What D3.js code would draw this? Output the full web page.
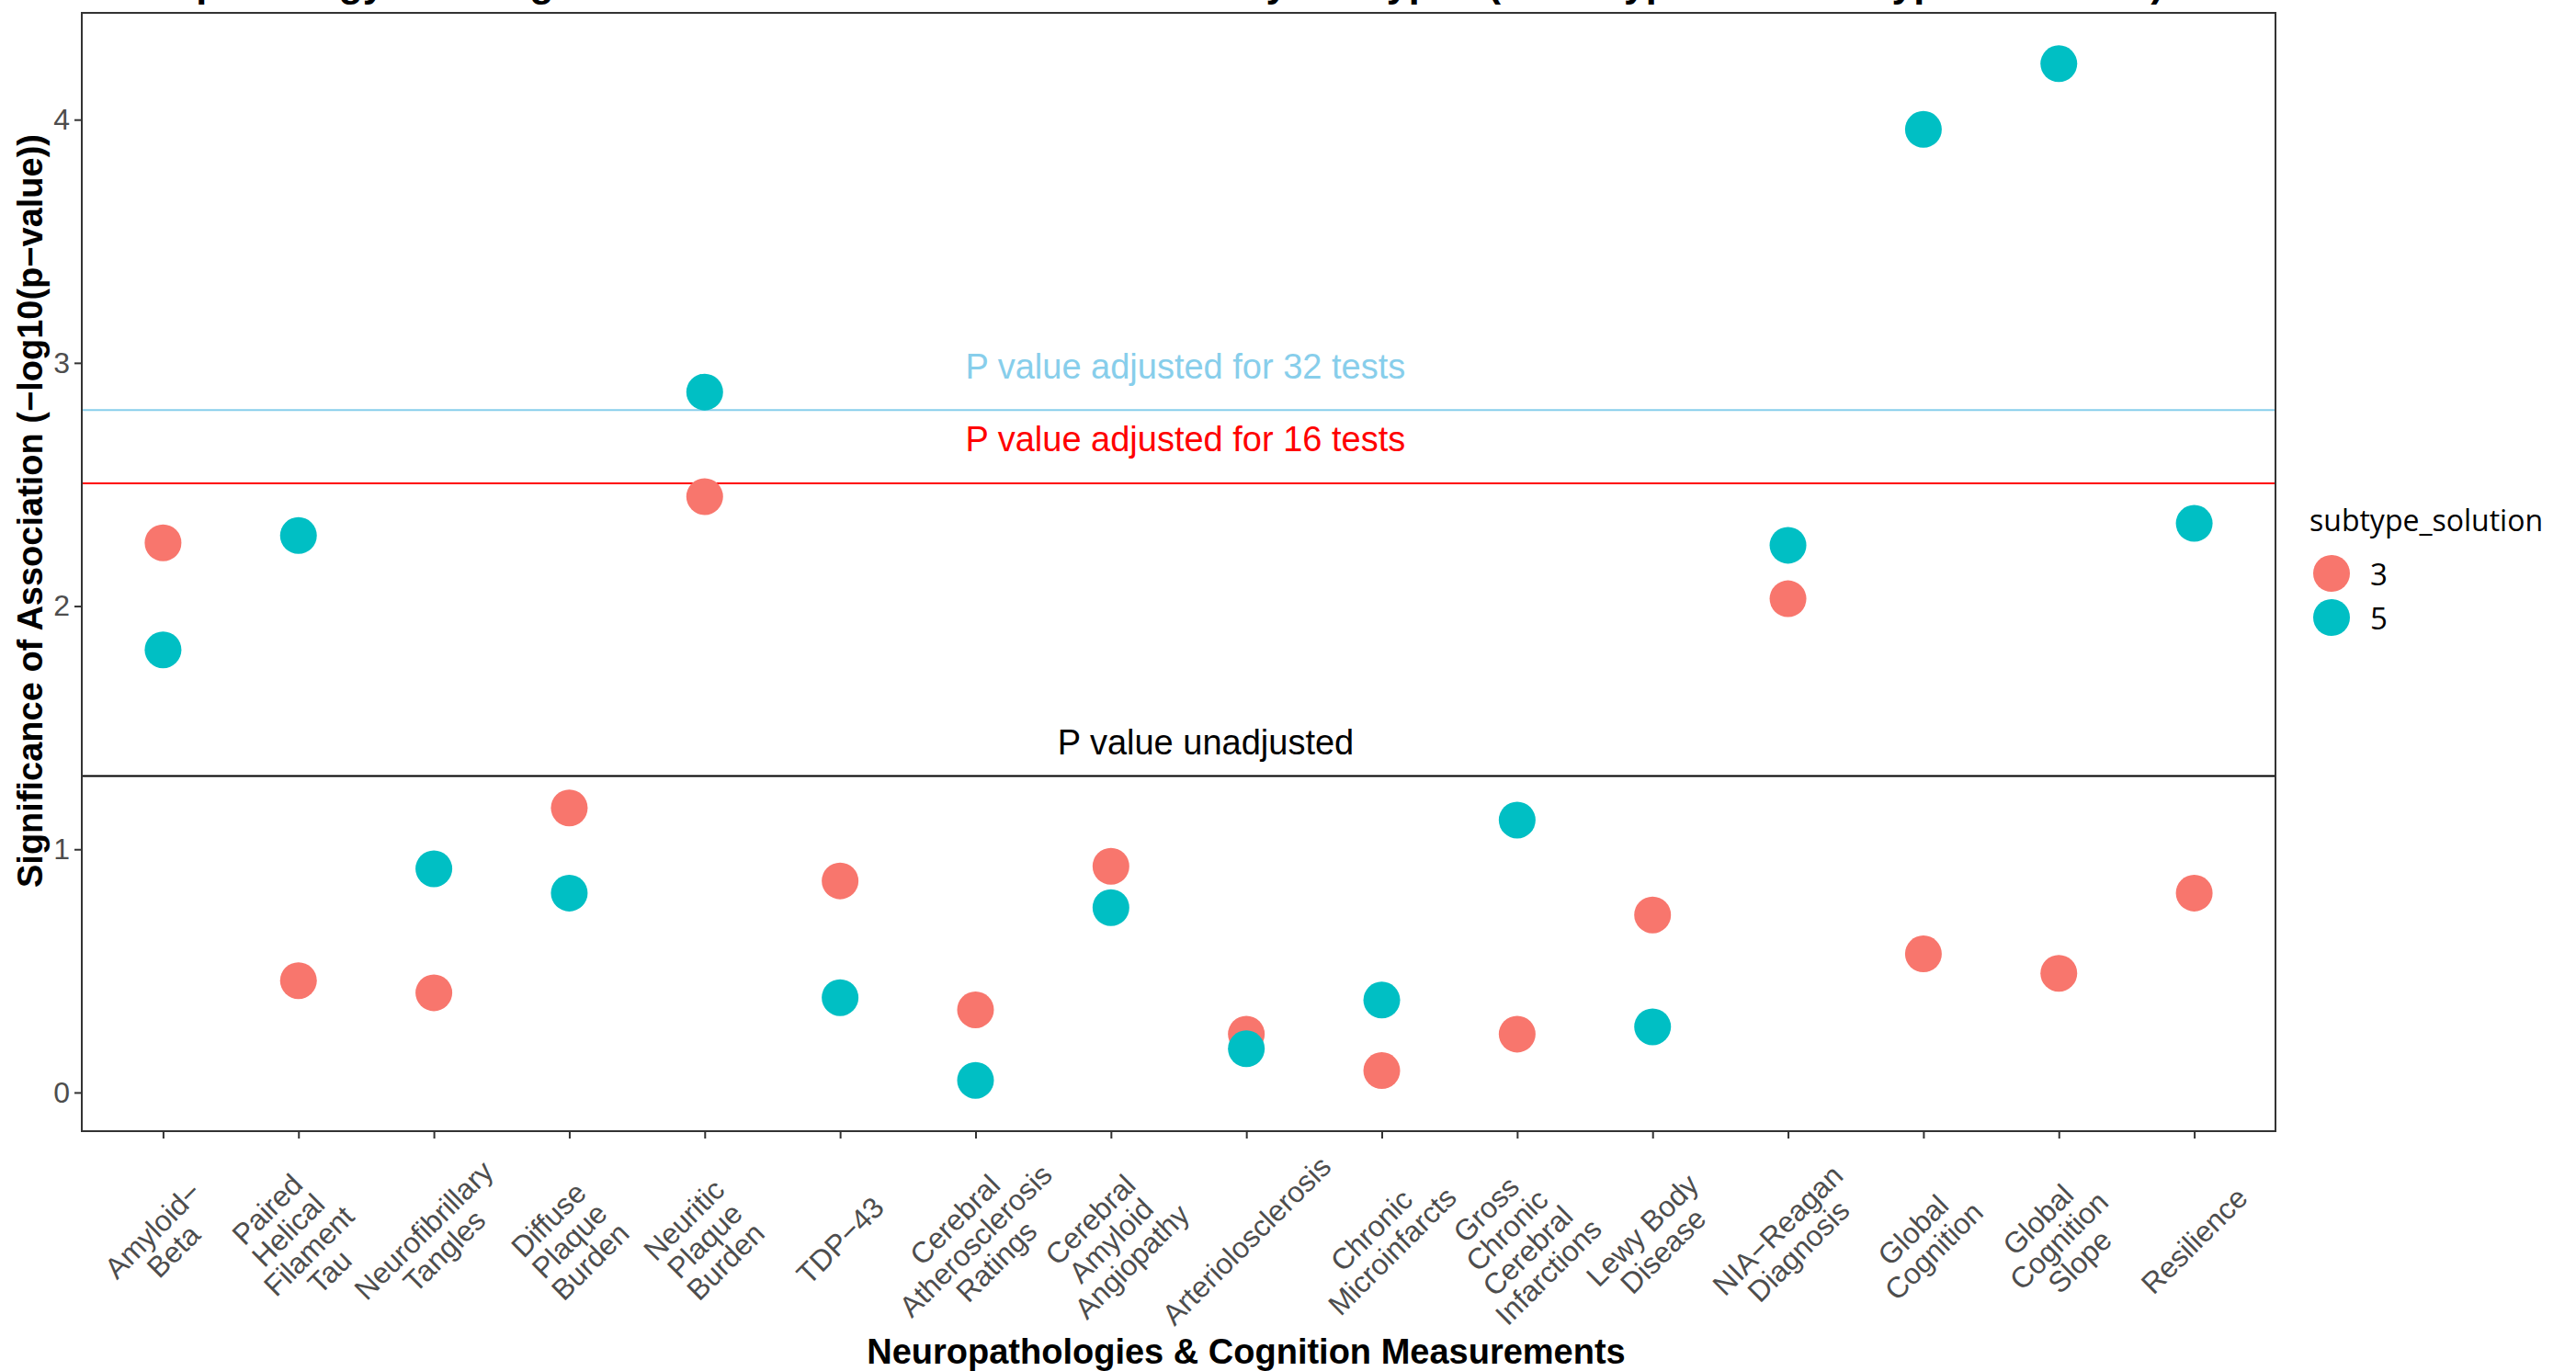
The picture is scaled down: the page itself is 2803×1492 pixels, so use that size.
<!DOCTYPE html>
<html><head><meta charset="utf-8">
<script src="https://cdn.jsdelivr.net/npm/d3@7"></script>
<style>body{margin:0;background:#fff;} svg{display:block;}</style>
</head><body>
<svg id="chart" width="2803" height="1492"></svg>
<script>
// ---------------- data ----------------
const categories = ["Amyloid-Beta","Paired Helical Filament Tau","Neurofibrillary Tangles","Diffuse Plaque Burden",
  "Neuritic Plaque Burden","TDP-43","Cerebral Atherosclerosis Ratings","Cerebral Amyloid Angiopathy",
  "Arteriolosclerosis","Chronic Microinfarcts","Gross Chronic Cerebral Infarctions","Lewy Body Disease",
  "NIA-Reagan Diagnosis","Global Cognition","Global Cognition Slope","Resilience"];
const tickLabels = ["Amyloid\u2212\nBeta","Paired\nHelical\nFilament\nTau","Neurofibrillary\nTangles","Diffuse\nPlaque\nBurden",
  "Neuritic\nPlaque\nBurden","TDP\u221243","Cerebral\nAtherosclerosis\nRatings","Cerebral\nAmyloid\nAngiopathy",
  "Arteriolosclerosis","Chronic\nMicroinfarcts","Gross\nChronic\nCerebral\nInfarctions","Lewy Body\nDisease",
  "NIA\u2212Reagan\nDiagnosis","Global\nCognition","Global\nCognition\nSlope","Resilience"];
const subtype3 = [2.26,0.46,0.41,1.17,2.45,0.87,0.34,0.93,0.24,0.09,0.24,0.73,2.03,0.57,0.49,0.82];
const subtype5 = [1.82,2.29,0.92,0.82,2.88,0.39,0.05,0.76,0.18,0.38,1.12,0.27,2.25,3.96,4.23,2.34];
const seriesNames = ["3","5"];
const yTicks = [0,1,2,3,4];
const thresholdLabels = ["P value adjusted for 32 tests","P value adjusted for 16 tests","P value unadjusted"];
const thresholdValues = [2.806, 2.505, 1.301];
const annotX = [8.55, 8.55, 8.70];   // category position (1-based) of label centre
const annotY = [2.985, 2.685, 1.44];
const titleText = "Neuropathology and Cognition Association Results Stratified by Subtypes (3-Subtype vs. 5-Subtype Solutions)";
const xTitle = "Neuropathologies & Cognition Measurements";
const yTitle = "Significance of Association (\u2212log10(p\u2212value))";
const legendTitle = "subtype_solution";

// ---------------- styles ----------------
const colors = ["#F8766D","#00BFC4"];
const lineColors = ["#87CEEB","#FF0000","#000000"];
const panel = {left:89, right:2476, top:14, bottom:1231};
const sans = "'Liberation Sans', Arial, sans-serif";
const legendFont = "'Open Sans', 'Noto Sans', sans-serif";

const svg = d3.select("#chart");

const x = d3.scalePoint().domain(categories).range([panel.left, panel.right]).padding(0.6);
const allVals = subtype3.concat(subtype5);
const ymin = d3.min(allVals), ymax = d3.max(allVals), ex = (ymax-ymin)*0.05;
const y = d3.scaleLinear().domain([ymin-ex, ymax+ex]).range([panel.bottom, panel.top]);
const xPos = v => x(categories[0]) + (v-1)*x.step();

// title (clipped at top in reference)
svg.append("text").attr("x", panel.left).attr("y", -4)
  .attr("font-family", sans).attr("font-weight","bold").attr("font-size",43)
  .attr("fill","#000").text(titleText);

// threshold lines
thresholdValues.forEach((v,i)=>{
  svg.append("line").attr("x1",panel.left).attr("x2",panel.right)
    .attr("y1",y(v)).attr("y2",y(v)).attr("stroke",lineColors[i]).attr("stroke-width",2);
  svg.append("text").attr("x",xPos(annotX[i])).attr("y",y(annotY[i]))
    .attr("text-anchor","middle").attr("dominant-baseline","central")
    .attr("font-family",sans).attr("font-size",38).attr("fill",lineColors[i])
    .text(thresholdLabels[i]);
});

// points
const pts = [];
[subtype3, subtype5].forEach((arr,s)=>arr.forEach((v,i)=>pts.push({c:categories[i], v, s})));
svg.append("g").selectAll("circle").data(pts).join("circle")
  .attr("cx",d=>x(d.c)).attr("cy",d=>y(d.v)).attr("r",20).attr("fill",d=>colors[d.s]);

// panel border
svg.append("rect").attr("x",panel.left).attr("y",panel.top)
  .attr("width",panel.right-panel.left).attr("height",panel.bottom-panel.top)
  .attr("fill","none").attr("stroke","#333333").attr("stroke-width",2);

// y axis
const yAxis = d3.axisLeft(y).tickValues(yTicks).tickFormat(d3.format("d")).tickSize(8).tickPadding(5);
const gy = svg.append("g").attr("transform",`translate(${panel.left},0)`).call(yAxis);
gy.select(".domain").remove();
gy.selectAll(".tick line").attr("stroke","#333333").attr("stroke-width",2);
gy.selectAll(".tick text").attr("font-family",sans).attr("font-size",32).attr("fill","#4d4d4d");

// x axis
const xAxis = d3.axisBottom(x).tickSize(8).tickFormat("");
const gx = svg.append("g").attr("transform",`translate(0,${panel.bottom})`).call(xAxis);
gx.select(".domain").remove();
gx.selectAll(".tick line").attr("stroke","#333333").attr("stroke-width",2);

// x tick labels: centred blocks rotated 45deg
const labelCY = 1350, fs = 32, LH = 32;
categories.forEach((c,i)=>{
  const lines = tickLabels[i].split("\n");
  const n = lines.length;
  const g = svg.append("g").attr("transform",`translate(${x(c)},${labelCY}) rotate(-45)`);
  lines.forEach((ln,j)=>{
    g.append("text").attr("x",0).attr("y",(j-(n-1)/2)*LH + fs*0.35)
      .attr("text-anchor","middle").attr("font-family",sans).attr("font-size",fs)
      .attr("fill","#4d4d4d").text(ln);
  });
});

// axis titles
svg.append("text").attr("x",1356).attr("y",1484).attr("text-anchor","middle")
  .attr("font-family",sans).attr("font-weight","bold").attr("font-size",38).text(xTitle);
svg.append("text").attr("transform","translate(46,556) rotate(-90)").attr("text-anchor","middle")
  .attr("font-family",sans).attr("font-weight","bold").attr("font-size",38).text(yTitle);

// legend
svg.append("text").attr("x",2513).attr("y",578).attr("font-family",legendFont).attr("font-size",32)
  .attr("fill","#000").text(legendTitle);
seriesNames.forEach((nm,i)=>{
  const cy = 624 + i*48;
  svg.append("circle").attr("cx",2537).attr("cy",cy).attr("r",20).attr("fill",colors[i]);
  svg.append("text").attr("x",2579).attr("y",cy).attr("dominant-baseline","central")
    .attr("font-family",legendFont).attr("font-size",33).attr("fill","#000").text(nm);
});
</script>
</body></html>
